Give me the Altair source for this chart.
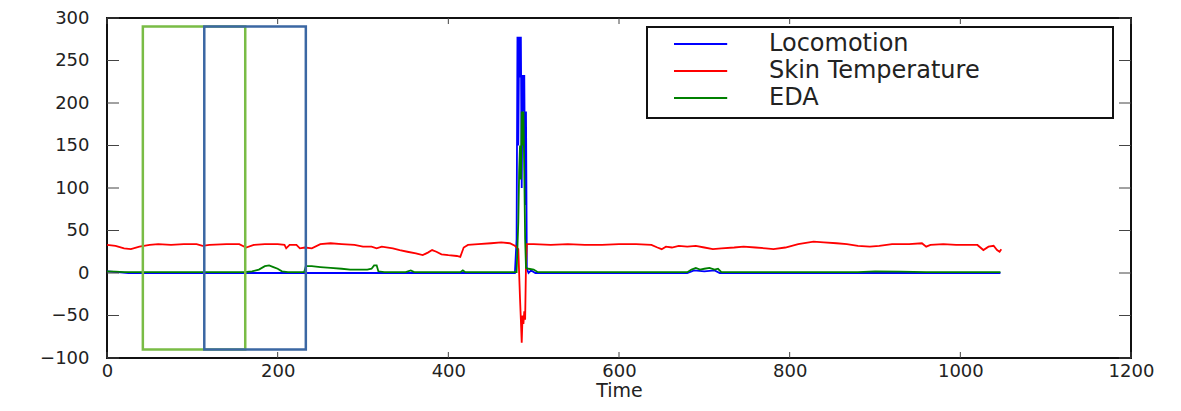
import altair as alt
import pandas as pd

series_names = ["Locomotion", "Skin Temperature", "EDA"]
series_colors = ["#0000ff", "#ff0000", "#008000"]

loco_t = [0, 12, 25, 100, 200, 300, 400, 478, 480, 481, 482, 483, 484, 485, 486, 487, 488, 489, 490, 491, 492,
          494, 497, 502, 600, 680, 688, 700, 712, 718, 800, 900, 1000, 1047]
loco_v = [2, 1, 0, 0, 0, 0, 0, 0, 40, 278, 150, 278, 230, 278, 100, 233, 190, 233, 80, 190, 5,
          0, 3, 0, 0, 0, 3, 2, 3, 0, 0, 0, 0, 0]

skin_t = [0, 10, 20, 28, 38, 50, 60, 75, 90, 105, 112, 120, 140, 155, 163, 172, 185, 200, 208, 210, 214, 222,
          226, 232, 240, 250, 262, 275, 290, 300, 310, 316, 322, 335, 343, 352, 362, 370, 376, 381, 386, 392,
          400, 410, 414, 418, 423, 435, 450, 462, 472, 478, 482, 484, 485, 486, 487, 488, 489, 490, 491, 492,
          500, 520, 540, 560, 580, 600, 620, 638, 645, 650, 655, 662, 670, 680, 690, 700, 710, 720, 735, 746,
          760, 772, 781, 795, 810, 828, 840, 855, 867, 880, 894, 905, 920, 940, 955, 960, 965, 980, 995, 1010,
          1020, 1027, 1033, 1039, 1043, 1046, 1048]
skin_v = [33, 32, 29, 28, 31, 33, 34, 33, 34, 34, 32, 33, 34, 34, 30, 33, 34, 34, 33, 29, 33, 33,
          29, 30, 29, 34, 35, 34, 33, 31, 31, 29, 31, 29, 27, 25, 23, 21, 24, 27, 25, 22,
          21, 20, 19, 30, 33, 34, 35, 36, 35, 32, 28, -30, -55, -82, -50, -60, -45, -55, 10, 34,
          34, 33, 34, 33, 33, 34, 34, 33, 30, 28, 31, 30, 32, 31, 32, 30, 28, 29, 30, 31,
          30, 29, 28, 30, 34, 37, 36, 35, 34, 32, 31, 32, 34, 34, 35, 31, 33, 34, 33, 33,
          33, 27, 31, 32, 27, 25, 28]

eda_t = [0, 10, 20, 60, 100, 140, 160, 170, 178, 185, 190, 195, 200, 205, 212, 225, 231, 233, 240, 250, 262,
         275, 285, 295, 305, 310, 313, 316, 318, 325, 350, 356, 360, 400, 414, 417, 420, 470, 480, 482, 483,
         484, 485, 486, 487, 488, 489, 490, 491, 494, 500, 505, 600, 680, 685, 690, 695, 700, 706, 712, 716,
         720, 800, 880, 900, 930, 960, 1000, 1047]
eda_v = [2, 1.5, 1, 1, 1, 1, 1, 2, 4, 8, 9, 7, 5, 2, 1, 1, 1, 8, 8, 7, 6,
         5, 4, 4, 4, 5, 9, 9, 2, 1, 1, 3, 1, 1, 1, 3, 1, 1, 1, 60, 120,
         150, 110, 190, 150, 190, 120, 40, 6, 5, 4, 1, 1, 1, 4, 6, 4, 5, 6, 4, 5,
         1, 1, 1, 2, 1.5, 1, 1, 1]

rect_names = ["Window A", "Window B"]
rect_colors = ["#79bc45", "#3b67a3"]
rect_x0 = [42, 114]
rect_x1 = [162, 233]
rect_y0 = [-90, -90]
rect_y1 = [290, 290]

x_ticks = [0, 200, 400, 600, 800, 1000, 1200]
y_ticks = [-100, -50, 0, 50, 100, 150, 200, 250, 300]

rows = []
for name, ts, vs in [(series_names[0], loco_t, loco_v),
                     (series_names[1], skin_t, skin_v),
                     (series_names[2], eda_t, eda_v)]:
    for t, v in zip(ts, vs):
        rows.append({"series": name, "t": t, "v": v})
df = pd.DataFrame(rows)

rdf = pd.DataFrame({"name": rect_names, "x0": rect_x0, "x1": rect_x1, "y0": rect_y0, "y1": rect_y1})
xtdf = pd.DataFrame({"t": x_ticks})
ytdf = pd.DataFrame({"v": y_ticks})

W, H = 1024, 340
xs = alt.Scale(domain=[0, 1200], nice=False, zero=False)
ys = alt.Scale(domain=[-100, 300], nice=False, zero=False)
xaxis = alt.Axis(values=x_ticks, title="Time", format="d", labelFlush=False, labelOverlap=False)
yaxis = alt.Axis(values=y_ticks, title=None, format="d", labelFlush=False, labelOverlap=False)

lines = alt.Chart(df).mark_line(strokeWidth=1.8).encode(
    x=alt.X("t:Q", scale=xs, axis=xaxis, title="Time"),
    y=alt.Y("v:Q", scale=ys, axis=yaxis, title=None),
    color=alt.Color("series:N",
                    scale=alt.Scale(domain=series_names, range=series_colors),
                    sort=series_names,
                    legend=alt.Legend(orient="none", legendX=566, legendY=11, title=None,
                                      symbolType="M-1,0H2.8", symbolSize=784, symbolStrokeWidth=2,
                                      labelFontSize=24, labelFont="DejaVu Sans", labelColor="#222",
                                      labelOffset=66, labelLimit=500, rowPadding=0, padding=0)),
)

rects = alt.Chart(rdf).mark_rect(filled=False, strokeWidth=2.5).encode(
    x=alt.X("x0:Q", scale=xs, axis=xaxis, title="Time"),
    x2="x1",
    y=alt.Y("y0:Q", scale=ys, axis=yaxis, title=None),
    y2="y1",
    stroke=alt.Stroke("name:N", scale=alt.Scale(domain=rect_names, range=rect_colors), legend=None),
)

tick_col = "#444"
ytl = alt.Chart(ytdf).mark_rule(color=tick_col, strokeWidth=1).encode(
    y=alt.Y("v:Q", scale=ys, axis=yaxis, title=None), x=alt.value(0), x2=alt.value(12))
ytr = alt.Chart(ytdf).mark_rule(color=tick_col, strokeWidth=1).encode(
    y=alt.Y("v:Q", scale=ys, axis=yaxis, title=None), x=alt.value(W - 12), x2=alt.value(W))
xtb = alt.Chart(xtdf).mark_rule(color=tick_col, strokeWidth=1).encode(
    x=alt.X("t:Q", scale=xs, axis=xaxis, title="Time"), y=alt.value(H), y2=alt.value(H - 6))
xtt = alt.Chart(xtdf).mark_rule(color=tick_col, strokeWidth=1).encode(
    x=alt.X("t:Q", scale=xs, axis=xaxis, title="Time"), y=alt.value(0), y2=alt.value(6))

legend_frame = alt.Chart(pd.DataFrame({"k": [0]})).mark_rect(
    filled=False, stroke="#111", strokeWidth=2).encode(
    x=alt.value(540), x2=alt.value(1006), y=alt.value(9), y2=alt.value(100))

chart = alt.layer(lines, rects, ytl, ytr, xtb, xtt, legend_frame).properties(
    width=W, height=H,
    autosize=alt.AutoSizeParams(type="none"),
    padding={"left": 99, "top": 10, "right": 40, "bottom": 45},
    background="white",
).configure_view(
    stroke="#111", strokeWidth=2
).configure_axis(
    grid=False, ticks=False, tickSize=0, domain=False,
    labelFont="DejaVu Sans", labelFontSize=18, labelColor="#222",
    titleFont="DejaVu Sans", titleFontSize=19, titleFontWeight="normal", titleColor="#222",
).configure_axisX(
    labelPadding=4, titlePadding=1
).configure_axisY(
    labelPadding=18
)

chart.save("out.html", embed_options={"renderer": "svg", "actions": False})
